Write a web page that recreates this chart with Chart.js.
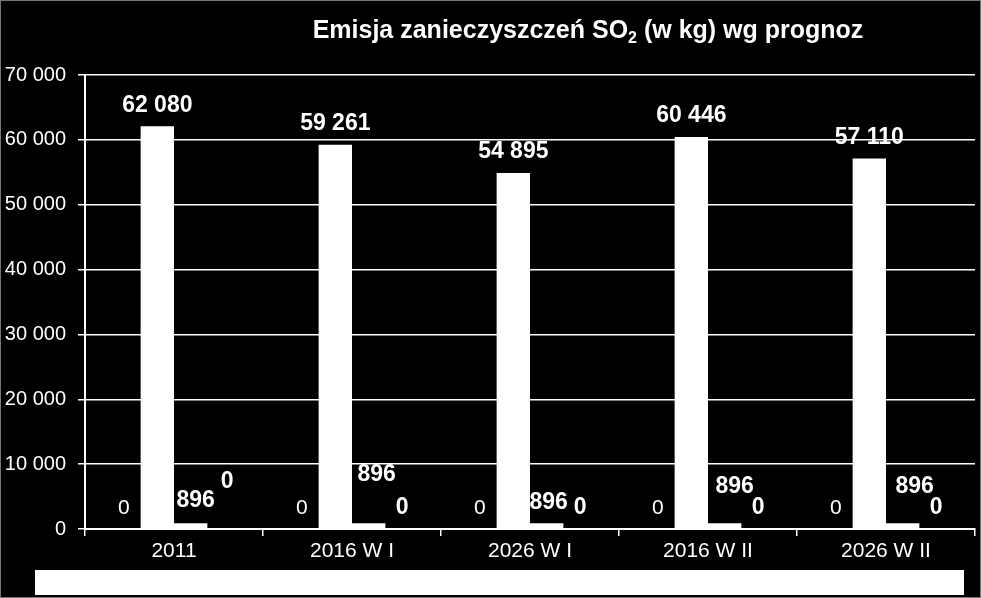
<!DOCTYPE html>
<html>
<head>
<meta charset="utf-8">
<title>Emisja zanieczyszczeń SO2</title>
<script src="https://cdn.jsdelivr.net/npm/chart.js@4.4.0/dist/chart.umd.min.js"></script>
<style>
  html, body { margin: 0; padding: 0; background: #000; }
  #wrap { width: 981px; height: 598px; }
</style>
</head>
<body>
<div id="wrap"><canvas id="so2Chart"></canvas></div>
<script>
// Values
const categories = ['2011', '2016 W I', '2026 W I', '2016 W II', '2026 W II'];
const seriesA = [0, 0, 0, 0, 0];
const seriesB = [62080, 59261, 54895, 60446, 57110];
const seriesC = [896, 896, 896, 896, 896];
const seriesD = [0, 0, 0, 0, 0];
const yTicks = [0, 10000, 20000, 30000, 40000, 50000, 60000, 70000];

const FONT = '"Liberation Sans", Arial, sans-serif';

function fmt(v) {
  return String(v).replace(/\B(?=(\d{3})+(?!\d))/g, ' ');
}

// black background, thin grey frame and the empty white legend box
const framePlugin = {
  id: 'frame',
  beforeDraw(chart) {
    const c = chart.ctx;
    c.save();
    c.fillStyle = '#000';
    c.fillRect(0, 0, chart.width, chart.height);
    c.restore();
  },
  afterDraw(chart) {
    const c = chart.ctx;
    c.save();
    c.fillStyle = '#fff';
    c.fillRect(35, chart.height - 28, chart.width - 52, 25);
    c.strokeStyle = '#777';
    c.lineWidth = 1;
    c.strokeRect(0.5, 0.5, chart.width - 1, chart.height - 1);
    c.restore();
  }
};

// title with subscript "2"
const titlePlugin = {
  id: 'subTitle',
  afterDraw(chart) {
    const c = chart.ctx;
    const parts = [
      { t: 'Emisja zanieczyszczeń SO', f: 'bold 25px ' + FONT, dy: 0 },
      { t: '2', f: 'bold 16px ' + FONT, dy: 5 },
      { t: ' (w kg) wg prognoz', f: 'bold 25px ' + FONT, dy: 0 }
    ];
    c.save();
    let total = 0;
    parts.forEach(p => { c.font = p.f; p.w = c.measureText(p.t).width; total += p.w; });
    let x = 588 - total / 2;
    c.fillStyle = '#fff';
    c.textBaseline = 'alphabetic';
    parts.forEach(p => {
      c.font = p.f;
      c.fillText(p.t, x, 38 + p.dy);
      x += p.w;
    });
    c.restore();
  }
};

// value labels above each bar
const labelPlugin = {
  id: 'barLabels',
  afterDatasetsDraw(chart, args, opts) {
    const c = chart.ctx;
    c.save();
    c.fillStyle = '#fff';
    c.textAlign = 'center';
    c.textBaseline = 'middle';
    chart.data.datasets.forEach((ds, i) => {
      const meta = chart.getDatasetMeta(i);
      const shift = opts.shift[i] || [];
      c.font = (ds.labelBold ? 'bold 23px ' : '21px ') + FONT;
      meta.data.forEach((el, j) => {
        const s = shift[j] || [0, 0];
        c.fillText(fmt(ds.data[j]), el.x + s[0], el.y - 21 + s[1]);
      });
    });
    c.restore();
  }
};

const ctx = document.getElementById('so2Chart').getContext('2d');

const so2Chart = new Chart(ctx, {
  type: 'bar',
  data: {
    labels: categories,
    datasets: [
      { label: 'Seria 1', data: seriesA, backgroundColor: '#fff', labelBold: false },
      { label: 'Seria 2', data: seriesB, backgroundColor: '#fff', labelBold: true },
      { label: 'Seria 3', data: seriesC, backgroundColor: '#fff', labelBold: true },
      { label: 'Seria 4', data: seriesD, backgroundColor: '#fff', labelBold: true }
    ]
  },
  options: {
    responsive: true,
    maintainAspectRatio: false,
    animation: false,
    devicePixelRatio: 1,
    categoryPercentage: 0.75,
    barPercentage: 1,
    layout: { padding: { top: 75, right: 6, bottom: 40, left: 0 } },
    plugins: {
      legend: { display: false },
      title: { display: false },
      tooltip: { enabled: false },
      barLabels: {
        shift: [
          [],
          [],
          [[5, -2], [8, -28], [2, 0], [10, -16], [12, -16]],
          [[3, -26], [0, 0], [0, 0], [0, 0], [0, 0]]
        ]
      }
    },
    scales: {
      x: {
        grid: {
          display: true,
          drawOnChartArea: false,
          color: '#fff',
          lineWidth: 1.5,
          tickLength: 7,
          offset: true
        },
        border: { color: '#fff', width: 2 },
        ticks: { color: '#fff', font: { family: FONT, size: 21 }, padding: 3 },
        afterFit(scale) { scale.height = 29; }
      },
      y: {
        min: 0,
        max: 70000,
        afterBuildTicks(scale) { scale.ticks = yTicks.map(v => ({ value: v })); },
        grid: { color: '#fff', lineWidth: 1.5, tickLength: 7 },
        border: { color: '#fff', width: 2 },
        ticks: {
          color: '#fff',
          font: { family: FONT, size: 20 },
          padding: 12,
          callback: v => fmt(v)
        },
        afterFit(scale) { scale.width = 85; }
      }
    }
  },
  plugins: [framePlugin, labelPlugin, titlePlugin]
});
</script>
</body>
</html>
